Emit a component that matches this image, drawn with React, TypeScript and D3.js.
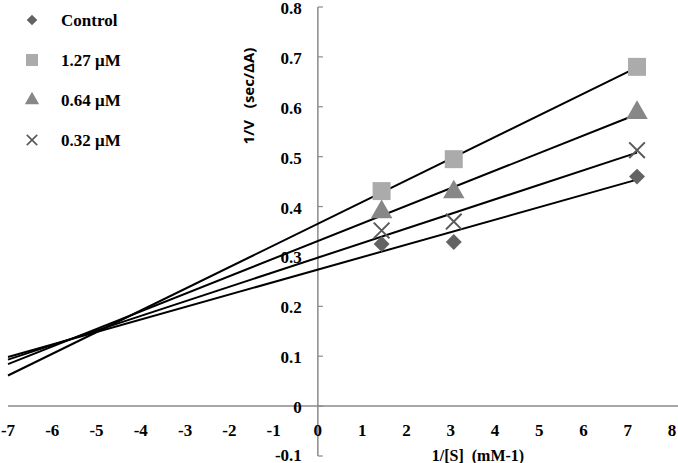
import { useEffect, useRef } from 'react';
import * as d3 from 'd3';

// 1/[S] values (mM-1)
const invS = [1.44, 3.07, 7.21];

// 1/V values (sec/ΔA) per inhibitor concentration
const seriesNames = ['Control', '1.27 μM', '0.64 μM', '0.32 μM'];
const control = [0.325, 0.329, 0.46];
const conc127 = [0.431, 0.495, 0.68];
const conc064 = [0.389, 0.429, 0.588];
const conc032 = [0.352, 0.37, 0.513];

const xTicks = d3.range(-7, 9, 1);
const yTicks = [-0.1, 0, 0.1, 0.2, 0.3, 0.4, 0.5, 0.6, 0.7, 0.8];

const fit = (xs: number[], ys: number[]) => {
  const mx = d3.mean(xs) || 0;
  const my = d3.mean(ys) || 0;
  let sxy = 0;
  let sxx = 0;
  xs.forEach((x, i) => {
    sxy += (x - mx) * (ys[i] - my);
    sxx += (x - mx) * (x - mx);
  });
  const slope = sxy / sxx;
  return { slope, intercept: my - slope * mx };
};

export default function App() {
  const svgRef = useRef<SVGSVGElement>(null);

  useEffect(() => {
    if (!svgRef.current) return;

    const width = 678;
    const height = 463;
    const serif = '"Liberation Serif", serif';

    const svg = d3.select(svgRef.current)
      .attr('width', width)
      .attr('height', height);

    svg.selectAll('*').remove();

    const x = d3.scaleLinear().domain([-7, 8]).range([8, 672]);
    const y = d3.scaleLinear().domain([-0.1, 0.8]).range([456, 7]);

    const series = [
      { name: seriesNames[0], values: control, shape: 'diamond', color: '#636363' },
      { name: seriesNames[1], values: conc127, shape: 'square', color: '#ababab' },
      { name: seriesNames[2], values: conc064, shape: 'triangle', color: '#878787' },
      { name: seriesNames[3], values: conc032, shape: 'cross', color: '#595959' },
    ];

    const symbolFor = (shape: string, size: number) => {
      if (shape === 'diamond') return d3.symbol(d3.symbolDiamond2, size * size * 0.5)();
      if (shape === 'square') return d3.symbol(d3.symbolSquare, size * size)();
      if (shape === 'triangle') return d3.symbol(d3.symbolTriangle, size * size * 0.62)();
      return d3.symbol(d3.symbolX, size * size * 0.5)();
    };

    // axes
    const axisColor = '#8a8a8a';
    svg.append('line')
      .attr('x1', x(-7)).attr('x2', x(8) + 6)
      .attr('y1', y(0)).attr('y2', y(0))
      .attr('stroke', axisColor).attr('stroke-width', 1.5);

    svg.append('line')
      .attr('x1', x(0)).attr('x2', x(0))
      .attr('y1', y(0.8)).attr('y2', y(-0.1))
      .attr('stroke', axisColor).attr('stroke-width', 1.5);

    svg.append('g')
      .selectAll('line')
      .data(yTicks)
      .join('line')
      .attr('x1', x(0)).attr('x2', x(0) + 5)
      .attr('y1', d => y(d)).attr('y2', d => y(d))
      .attr('stroke', axisColor).attr('stroke-width', 1.2);

    svg.append('g')
      .selectAll('text')
      .data(yTicks)
      .join('text')
      .attr('x', x(0) - 16)
      .attr('y', d => Math.min(y(d) + 1, height - 8))
      .attr('dy', '0.35em')
      .attr('text-anchor', 'end')
      .attr('font-family', serif)
      .attr('font-weight', 'bold')
      .attr('font-size', 17)
      .text(d => (d === 0 ? '0' : d.toFixed(1)));

    svg.append('g')
      .selectAll('text')
      .data(xTicks)
      .join('text')
      .attr('x', d => x(d))
      .attr('y', y(0) + 24)
      .attr('dy', '0.35em')
      .attr('text-anchor', 'middle')
      .attr('font-family', serif)
      .attr('font-weight', 'bold')
      .attr('font-size', 17)
      .text(d => String(d));

    svg.append('text')
      .attr('x', 478)
      .attr('y', 455)
      .attr('dy', '0.35em')
      .attr('text-anchor', 'middle')
      .attr('font-family', serif)
      .attr('font-weight', 'bold')
      .attr('font-size', 16)
      .attr('xml:space', 'preserve')
      .text('1/[S]  (mM-1)');

    svg.append('text')
      .attr('transform', 'translate(249,96) rotate(-90)')
      .attr('dy', '0.35em')
      .attr('text-anchor', 'middle')
      .attr('font-family', '"Open Sans", sans-serif')
      .attr('font-weight', 'bold')
      .attr('font-size', 15)
      .attr('xml:space', 'preserve')
      .text('1/V   (sec/ΔA)');

    // regression lines
    series.forEach(s => {
      const { slope, intercept } = fit(invS, s.values);
      const x0 = -7;
      const x1 = d3.max(invS) || 0;
      svg.append('line')
        .attr('x1', x(x0)).attr('y1', y(slope * x0 + intercept))
        .attr('x2', x(x1)).attr('y2', y(slope * x1 + intercept))
        .attr('stroke', '#000').attr('stroke-width', 2);
    });

    // markers
    series.forEach(s => {
      const g = svg.append('g');
      g.selectAll('path')
        .data(s.values)
        .join('path')
        .attr('transform', (d, i) => `translate(${x(invS[i])},${y(d)})`)
        .attr('d', symbolFor(s.shape, 18))
        .attr('fill', s.shape === 'cross' ? 'none' : s.color)
        .attr('stroke', s.shape === 'cross' ? s.color : 'none')
        .attr('stroke-width', 2);
    });

    // legend
    const legend = svg.append('g');
    series.forEach((s, i) => {
      const ly = 20 + i * 40;
      legend.append('path')
        .attr('transform', `translate(32,${ly})`)
        .attr('d', symbolFor(s.shape, 12))
        .attr('fill', s.shape === 'cross' ? 'none' : s.color)
        .attr('stroke', s.shape === 'cross' ? s.color : 'none')
        .attr('stroke-width', 1.6);
      legend.append('text')
        .attr('x', 61)
        .attr('y', ly)
        .attr('dy', '0.35em')
        .attr('font-family', serif)
        .attr('font-weight', 'bold')
        .attr('font-size', 17)
        .text(s.name);
    });
  }, []);

  return (
    <div style={{ position: 'absolute', left: 0, top: 0, background: '#fff' }}>
      <svg ref={svgRef} style={{ display: 'block' }} />
    </div>
  );
}
